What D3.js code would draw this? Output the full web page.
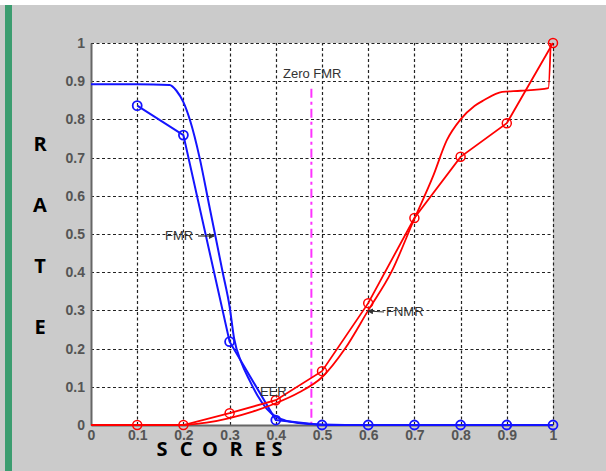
<!DOCTYPE html>
<html lang="en">
<head>
    <meta charset="UTF-8">
    <title>FMR / FNMR</title>
    <script src="https://d3js.org/d3.v7.min.js"></script>
    <style>
        body { margin: 0; background: #fff; }
        svg { display: block; }
    </style>
</head>
<body>
    <div id="my_dataviz"></div>

    <script>
        // marker lines (sampled every 0.1)
        var scoreTicks = [0, 0.1, 0.2, 0.3, 0.4, 0.5, 0.6, 0.7, 0.8, 0.9, 1];
        var rateTicks = [0, 0.1, 0.2, 0.3, 0.4, 0.5, 0.6, 0.7, 0.8, 0.9, 1];
        var fmrScores = [0.1, 0.2, 0.3, 0.4, 0.5, 0.6, 0.7, 0.8, 0.9, 1];
        var fmrValues = [0.836, 0.759, 0.218, 0.013, 0, 0, 0, 0, 0, 0];
        var fnmrScores = [0, 0.1, 0.2, 0.3, 0.4, 0.5, 0.6, 0.7, 0.8, 0.9, 1];
        var fnmrValues = [0, 0, 0, 0.031, 0.065, 0.141, 0.319, 0.542, 0.702, 0.79, 1];
        var fnmrMarked = [0.1, 0.2, 0.3, 0.4, 0.5, 0.6, 0.7, 0.8, 0.9, 1];

        // smooth curves
        var fmrCurveX = [0, 0.1, 0.17, 0.185, 0.2, 0.215, 0.235, 0.255, 0.27, 0.285, 0.3, 0.31, 0.325, 0.344, 0.36, 0.38, 0.4, 0.42, 0.45, 0.5, 0.55, 1];
        var fmrCurveY = [0.892, 0.892, 0.89, 0.875, 0.845, 0.795, 0.70, 0.58, 0.49, 0.40, 0.31, 0.225, 0.165, 0.115, 0.078, 0.043, 0.022, 0.012, 0.005, 0.001, 0, 0];
        var fnmrCurveX = [0.2, 0.25, 0.3, 0.35, 0.4, 0.45, 0.5, 0.55, 0.6, 0.65, 0.7, 0.74, 0.77, 0.8, 0.83, 0.85, 0.89, 0.93, 0.99, 0.995];
        var fnmrCurveY = [0, 0.006, 0.018, 0.035, 0.057, 0.085, 0.125, 0.20, 0.30, 0.40, 0.54, 0.65, 0.745, 0.80, 0.835, 0.85, 0.872, 0.875, 0.882, 1.0];

        var zeroFmr = 0.477;
        var zeroFmrTop = 0.88;

        var W = 606, H = 471;
        var x = d3.scaleLinear().domain([0, 1]).range([91, 553]);
        var y = d3.scaleLinear().domain([0, 1]).range([425, 43]);

        var svg = d3.select("#my_dataviz")
            .append("svg")
            .attr("width", W)
            .attr("height", H);

        // background
        svg.append("rect").attr("x", 0).attr("y", 0).attr("width", W).attr("height", H).attr("fill", "#fff");
        svg.append("rect").attr("x", 0).attr("y", 5).attr("width", W).attr("height", H - 5).attr("fill", "#cbcbcb");
        svg.append("rect").attr("x", 5).attr("y", 5).attr("width", 7).attr("height", H - 5).attr("fill", "#3c9d70");

        svg.append("rect")
            .attr("x", x(0)).attr("y", y(1))
            .attr("width", x(1) - x(0)).attr("height", y(0) - y(1))
            .attr("fill", "#fff");

        // dotted grid
        var grid = svg.append("g")
            .attr("stroke", "#222")
            .attr("stroke-width", 1.2)
            .attr("stroke-dasharray", "3,2.5");
        grid.selectAll("line.v")
            .data(scoreTicks.filter(function(d) { return d > 0; }))
            .enter().append("line")
            .attr("x1", function(d) { return Math.round(x(d)) + 0.5; })
            .attr("x2", function(d) { return Math.round(x(d)) + 0.5; })
            .attr("y1", y(0)).attr("y2", y(1));
        grid.selectAll("line.h")
            .data(rateTicks.filter(function(d) { return d > 0; }))
            .enter().append("line")
            .attr("y1", function(d) { return Math.round(y(d)) + 0.5; })
            .attr("y2", function(d) { return Math.round(y(d)) + 0.5; })
            .attr("x1", x(0)).attr("x2", x(1));

        // axes
        var xAxis = svg.append("g")
            .attr("transform", "translate(0," + y(0) + ")")
            .call(d3.axisBottom(x).tickValues(scoreTicks).tickFormat(d3.format("")).tickSize(0).tickPadding(5));
        var yAxis = svg.append("g")
            .attr("transform", "translate(" + x(0) + ",0)")
            .call(d3.axisLeft(y).tickValues(rateTicks).tickFormat(d3.format("")).tickSize(0).tickPadding(6));
        [xAxis, yAxis].forEach(function(a) {
            a.select(".domain").attr("stroke", "#666").attr("stroke-width", 2);
            a.selectAll("text")
                .attr("font-family", "Liberation Sans, Arial, sans-serif")
                .attr("font-size", 14)
                .attr("font-weight", "bold")
                .attr("fill", "#555");
        });

        // zero FMR line
        svg.append("line")
            .attr("x1", x(zeroFmr)).attr("x2", x(zeroFmr))
            .attr("y1", y(zeroFmrTop)).attr("y2", y(0))
            .attr("stroke", "#ff33ff")
            .attr("stroke-width", 2)
            .attr("stroke-dasharray", "9,4,3,4");

        var line = d3.line()
            .x(function(d) { return x(d[0]); })
            .y(function(d) { return y(d[1]); });
        var smooth = d3.line()
            .x(function(d) { return x(d[0]); })
            .y(function(d) { return y(d[1]); })
            .curve(d3.curveMonotoneX);

        // FMR (blue)
        svg.append("path")
            .datum(d3.zip(fmrCurveX, fmrCurveY))
            .attr("d", smooth)
            .attr("fill", "none").attr("stroke", "#1414ff").attr("stroke-width", 2);
        svg.append("path")
            .datum(d3.zip(fmrScores, fmrValues))
            .attr("d", line)
            .attr("fill", "none").attr("stroke", "#1414ff").attr("stroke-width", 2);
        svg.selectAll("circle.fmr")
            .data(d3.zip(fmrScores, fmrValues))
            .enter().append("circle")
            .attr("cx", function(d) { return x(d[0]); })
            .attr("cy", function(d) { return y(d[1]); })
            .attr("r", 4.5)
            .attr("fill", "none").attr("stroke", "#1414ff").attr("stroke-width", 1.8);

        // FNMR (red)
        svg.append("path")
            .datum(d3.zip(fnmrCurveX, fnmrCurveY))
            .attr("d", smooth)
            .attr("fill", "none").attr("stroke", "#ff0000").attr("stroke-width", 1.8);
        svg.append("path")
            .datum(d3.zip(fnmrScores, fnmrValues))
            .attr("d", line)
            .attr("fill", "none").attr("stroke", "#ff0000").attr("stroke-width", 1.8);
        svg.selectAll("circle.fnmr")
            .data(d3.zip(fnmrScores, fnmrValues).filter(function(d) { return fnmrMarked.indexOf(d[0]) >= 0; }))
            .enter().append("circle")
            .attr("cx", function(d) { return x(d[0]); })
            .attr("cy", function(d) { return y(d[1]); })
            .attr("r", 4.5)
            .attr("fill", "none").attr("stroke", "#ff0000").attr("stroke-width", 1.5);

        // annotations
        var ann = svg.append("g")
            .attr("font-family", "Liberation Sans, Arial, sans-serif")
            .attr("font-size", 13)
            .attr("fill", "#333");
        ann.append("text").attr("x", 283).attr("y", 78).text("Zero FMR");
        ann.append("text").attr("x", 165).attr("y", 240).text("FMR");
        ann.append("text").attr("x", 386).attr("y", 316).text("FNMR");
        ann.append("text").attr("x", 260).attr("y", 396).text("EER");

        // little arrows next to labels
        svg.append("defs").append("marker")
            .attr("id", "ah").attr("viewBox", "0 0 6 6")
            .attr("refX", 5).attr("refY", 3)
            .attr("markerWidth", 5).attr("markerHeight", 5)
            .attr("orient", "auto")
            .append("path").attr("d", "M0,0 L6,3 L0,6 Z").attr("fill", "#333");
        svg.append("line")
            .attr("x1", 198).attr("y1", 236).attr("x2", 214).attr("y2", 236)
            .attr("stroke", "#333").attr("stroke-width", 1.2).attr("marker-end", "url(#ah)");
        svg.append("line")
            .attr("x1", 384).attr("y1", 312).attr("x2", 368).attr("y2", 311)
            .attr("stroke", "#333").attr("stroke-width", 1.2).attr("marker-end", "url(#ah)");

        // hand-placed axis titles
        var yLetters = ["R", "A", "T", "E"];
        var yLetterBase = [151, 212, 273, 334];
        svg.selectAll("text.ylab")
            .data(yLetters)
            .enter().append("text")
            .attr("x", 40)
            .attr("y", function(d, i) { return yLetterBase[i]; })
            .attr("text-anchor", "middle")
            .attr("font-family", "Open Sans, sans-serif")
            .attr("font-weight", "bold")
            .attr("font-size", 20)
            .attr("fill", "#000")
            .text(function(d) { return d; });

        var xLetters = ["S", "C", "O", "R", "E", "S"];
        var xLetterPos = [162, 186, 210, 236, 260, 277];
        svg.selectAll("text.xlab")
            .data(xLetters)
            .enter().append("text")
            .attr("x", function(d, i) { return xLetterPos[i]; })
            .attr("y", 456)
            .attr("text-anchor", "middle")
            .attr("font-family", "Open Sans, sans-serif")
            .attr("font-weight", "bold")
            .attr("font-size", 20)
            .attr("fill", "#000")
            .text(function(d) { return d; });
    </script>
</body>
</html>
